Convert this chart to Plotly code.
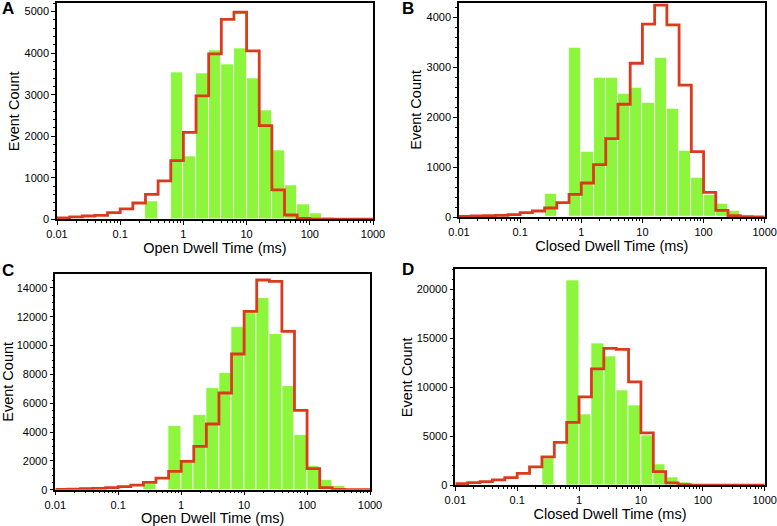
import plotly.graph_objects as go
import math

# Bin layout: 5 log-spaced bins per decade from 0.01 to 1000 ms (25 bins)
n_bins = 25
log_edges = [-2 + i / 5 for i in range(n_bins + 1)]

# Panel A: open dwell times
a_hist = [0, 0, 0, 0, 0, 0, 0, 430, 0, 3550, 1525, 3523, 4069, 3740, 4125,
          3403, 2632, 1669, 827, 361, 152, 56, 10, 0, 0]
a_fit = [32, 56, 80, 96, 160, 249, 393, 602, 923, 1412, 2095, 2970, 3981, 4815,
         4984, 4053, 2255, 706, 104, 24, 6, 3, 2, 2, 2]

# Panel B: closed dwell times
b_hist = [0, 0, 0, 0, 0, 0, 0, 475, 0, 3392, 1309, 2798, 2790, 2464, 2598,
          2290, 3199, 2177, 1329, 788, 447, 267, 120, 0, 0]
b_fit = [13, 20, 27, 33, 47, 87, 120, 180, 287, 454, 681, 1048, 1569, 2257,
         3078, 3860, 4240, 3846, 2638, 1309, 494, 134, 27, 7, 2]

# Panel C: open dwell times
c_hist = [0, 0, 0, 0, 0, 0, 0, 395, 0, 4443, 1950, 5160, 7081, 8122, 11293,
          12311, 13329, 10807, 7220, 3795, 1643, 694, 254, 0, 0]
c_fit = [23, 46, 69, 93, 139, 208, 324, 509, 810, 1273, 1967, 3008, 4559, 6711,
         9418, 12380, 14555, 14463, 10992, 5508, 1458, 139, 23, 5, 5]

# Panel D: closed dwell times
d_hist = [0, 0, 0, 0, 0, 0, 0, 2755, 0, 20884, 7279, 14490, 13129, 9728, 8163,
          5068, 2177, 850, 340, 136, 50, 0, 0, 0, 0]
d_fit = [170, 272, 374, 544, 782, 1224, 1870, 2891, 4388, 6429, 9014, 11871,
         13980, 13878, 10544, 5340, 1395, 238, 68, 20, 10, 10, 10, 10, 10]

x_tick_vals = [-2, -1, 0, 1, 2, 3]
x_tick_text = ["0.01", "0.1", "1", "10", "100", "1000"]

panels = [
    dict(label="A", hist=a_hist, fit=a_fit, xtitle="Open Dwell Time (ms)",
         ymax=5200, dtick=1000, minor=200,
         xdom=[57 / 777, 373 / 777], ydom=[1 - 219.3 / 526, 1 - 3.3 / 526],
         lab=(0, 9)),
    dict(label="B", hist=b_hist, fit=b_fit, xtitle="Closed Dwell Time (ms)",
         ymax=4290, dtick=1000, minor=200,
         xdom=[459 / 777, 764.7 / 777], ydom=[1 - 217 / 526, 1 - 2.7 / 526],
         lab=(400, 8)),
    dict(label="C", hist=c_hist, fit=c_fit, xtitle="Open Dwell Time (ms)",
         ymax=14970, dtick=2000, minor=500,
         xdom=[55.3 / 777, 370 / 777], ydom=[1 - 489.7 / 526, 1 - 274 / 526],
         lab=(0, 270)),
    dict(label="D", hist=d_hist, fit=d_fit, xtitle="Closed Dwell Time (ms)",
         ymax=22040, dtick=5000, minor=1000,
         xdom=[455.3 / 777, 764.7 / 777], ydom=[1 - 485.3 / 526, 1 - 269.3 / 526],
         lab=(400, 269)),
]

minor_x = [math.log10(k * 10 ** d) for d in range(-2, 3) for k in range(2, 10)]

GREEN = "#8CF53C"
RED = "#DC3A1C"
FONT = "Liberation Sans, Arial, sans-serif"

fig = go.Figure()
annotations = []
for idx, p in enumerate(panels):
    n = idx + 1
    xa = "x" if n == 1 else f"x{n}"
    ya = "y" if n == 1 else f"y{n}"
    centers = [(log_edges[i] + log_edges[i + 1]) / 2 for i in range(n_bins)]
    fig.add_trace(go.Bar(
        x=centers, y=p["hist"], width=0.2, xaxis=xa, yaxis=ya,
        marker=dict(color=GREEN, line=dict(color="white", width=0.8)),
        showlegend=False, hoverinfo="skip"))
    fig.add_trace(go.Scatter(
        x=log_edges, y=p["fit"] + [p["fit"][-1]], xaxis=xa, yaxis=ya,
        mode="lines", line=dict(color=RED, width=2.8, shape="hv"),
        showlegend=False, hoverinfo="skip"))

    axis_common = dict(
        showline=True, mirror=True, linecolor="black", linewidth=1.5,
        ticks="outside", ticklen=4, tickwidth=1, tickcolor="black",
        showgrid=False, zeroline=False, automargin=False,
        tickfont=dict(family=FONT, size=11, color="black"),
    )
    xkey = "xaxis" if n == 1 else f"xaxis{n}"
    ykey = "yaxis" if n == 1 else f"yaxis{n}"
    fig.layout[xkey] = dict(
        axis_common, domain=p["xdom"], anchor=ya, range=[-2, 3],
        tickvals=x_tick_vals, ticktext=x_tick_text,
        minor=dict(tickvals=minor_x, ticklen=2, tickcolor="black", ticks="outside"),
        title=dict(text=p["xtitle"], font=dict(family=FONT, size=14.5, color="black"),
                   standoff=4),
    )
    fig.layout[ykey] = dict(
        axis_common, domain=p["ydom"], anchor=xa, range=[0, p["ymax"]],
        tick0=0, dtick=p["dtick"], tickformat="d",
        minor=dict(dtick=p["minor"], ticklen=2, tickcolor="black", ticks="outside"),
        title=dict(text="Event Count", font=dict(family=FONT, size=14.5, color="black"),
                   standoff=1),
    )
    annotations.append(dict(
        text=f"<b>{p['label']}</b>", x=p["lab"][0] / 777, y=1 - p["lab"][1] / 526,
        xref="paper", yref="paper", xanchor="left", yanchor="middle",
        showarrow=False, font=dict(family=FONT, size=17, color="black")))

fig.update_layout(
    width=777, height=526, margin=dict(l=0, r=0, t=0, b=0, autoexpand=False),
    paper_bgcolor="white", plot_bgcolor="white", bargap=0,
    annotations=annotations, font=dict(family=FONT),
)

fig.write_html("out.html", config={"displayModeBar": False},
               post_script="document.body.style.margin='0';document.body.style.padding='0';")
